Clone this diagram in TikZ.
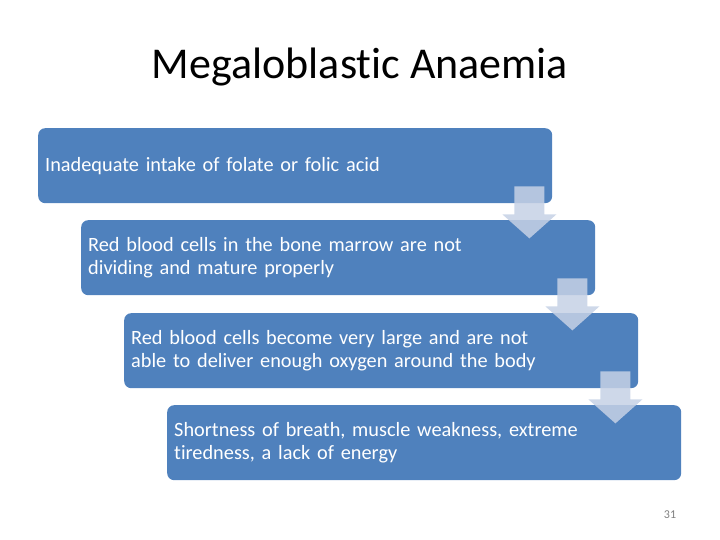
\documentclass[tikz,border=0pt]{standalone}
\usepackage{fontspec}
\setmainfont{Carlito}[Ligatures=NoCommon]
\usepackage{tikz}
\usetikzlibrary{positioning}
\definecolor{boxblue}{HTML}{4F81BD}
\definecolor{arrowgrey}{HTML}{C6D1E5}
\tikzset{
  stepbox/.style={fill=boxblue, rounded corners=7pt, text=white,
    minimum width=514pt, minimum height=75pt, text width=500pt,
    align=left, inner sep=7pt, anchor=north west,
    font=\fontsize{20.3}{23}\selectfont},
  downarrow/.style={fill=arrowgrey, fill opacity=0.85}
}

\begin{document}
\begin{tikzpicture}[x=1pt,y=-1pt]
  \useasboundingbox (0,0) rectangle (720,540);
  \node[font=\fontsize{44}{52}\selectfont] (title) at (360,67) {Megaloblastic Anaemia};
  % the four steps
  \node[stepbox] (folate) at (38,128) {Inadequate intake of folate or folic acid};
  \node[stepbox] (marrow) at (81,220) {Red blood cells in the bone marrow are not\\
                                       dividing and mature properly};
  \node[stepbox] (large) at (124,313) {Red blood cells become very large and are not\\
                                       able to deliver enough oxygen around the body};
  \node[stepbox] (symptoms) at (167,405) {Shortness of breath, muscle weakness, extreme\\
                                       tiredness, a lack of energy};
  % arrows between steps
  \foreach \a in {folate, marrow, large} {
    \fill[downarrow] ([shift={(-38,-17)}]\a.south east) -- ++(30,0) -- ++(0,28)
          -- ++(12,0) -- ++(-27,24) -- ++(-27,-24) -- ++(12,0) -- cycle;
  }
  \node[font=\fontsize{12}{14}\selectfont, text=gray] (page) at (670,515) {31};
\end{tikzpicture}
\end{document}
